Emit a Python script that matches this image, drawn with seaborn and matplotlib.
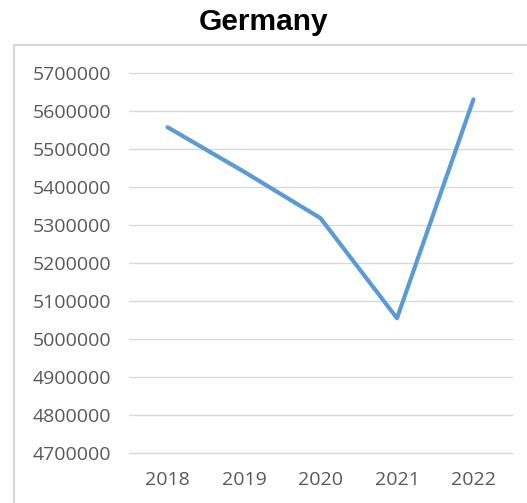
import matplotlib
matplotlib.use("Agg")
import matplotlib.pyplot as plt
import seaborn as sns
import pandas as pd
from matplotlib.patches import Rectangle

# Annual values for Germany
years = ["2018", "2019", "2020", "2021", "2022"]
values = [5557000, 5440000, 5318000, 5055000, 5630000]
y_ticks = [4700000, 4800000, 4900000, 5000000, 5100000,
           5200000, 5300000, 5400000, 5500000, 5600000, 5700000]

df = pd.DataFrame({"year": years, "value": values})

sns.set_theme(style="white")
plt.rcParams["font.family"] = ["Open Sans", "DejaVu Sans"]

W, H = 527, 503
fig = plt.figure(figsize=(W / 100, H / 100), dpi=100)

# chart frame
fig.patches.append(Rectangle((14 / W, -0.05), 1.2, 1 - 45 / H + 0.05,
                             transform=fig.transFigure, fill=False,
                             edgecolor="#D9D9D9", linewidth=1.6, zorder=0))

ax = fig.add_axes([129.3 / W, 1 - 453.3 / H, (511.7 - 129.3) / W, (453.3 - 72.8) / H])
ax.set_facecolor("none")

sns.lineplot(data=df, x="year", y="value", ax=ax, color="#5B9BD5",
             linewidth=3.0, solid_capstyle="round", solid_joinstyle="round",
             sort=False, zorder=3)

ax.set_xlim(-0.5, len(years) - 0.5)
ax.set_ylim(y_ticks[0], y_ticks[-1])
ax.set_yticks(y_ticks)
ax.set_yticklabels([str(v) for v in y_ticks])
ax.yaxis.grid(True, color="#D9D9D9", linewidth=1.0)
ax.xaxis.grid(False)
for gl in ax.get_ygridlines():
    gl.set_clip_on(False)
for s in ax.spines.values():
    s.set_visible(False)
ax.tick_params(axis="y", length=0, pad=13, labelsize=14, labelcolor="#595959")
ax.tick_params(axis="x", length=0, pad=13, labelsize=14, labelcolor="#595959")
ax.set_xlabel("")
ax.set_ylabel("")

fig.text(0.5, 1 - 22 / H, "Germany", ha="center", va="center", color="black",
         fontsize=21.5, fontweight="bold", family=["Liberation Sans", "DejaVu Sans"])

fig.savefig("out.png", dpi=100)
